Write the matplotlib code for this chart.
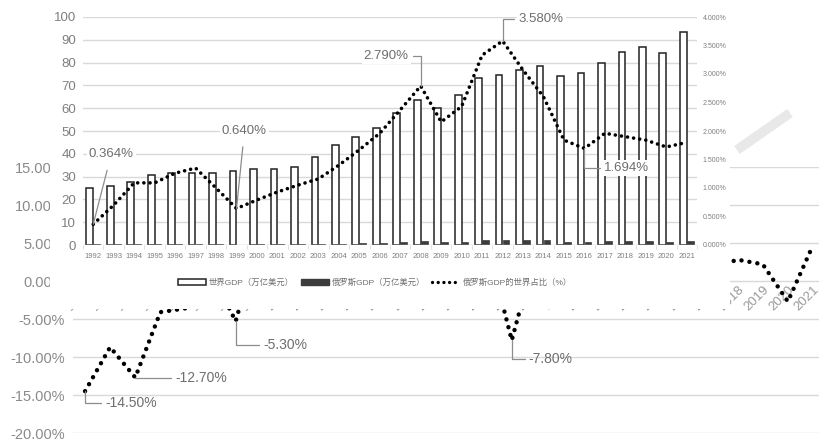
import numpy as np
import matplotlib
matplotlib.use('Agg')
import matplotlib.pyplot as plt
from matplotlib.patches import Patch
from matplotlib.lines import Line2D

plt.rcParams['font.family'] = ['Liberation Sans', 'Noto Sans CJK SC', 'DejaVu Sans']

years = [str(y) for y in range(1992, 2022)]

# background chart: Russia GDP growth (%)
growth = [-14.5, -8.7, -12.7, -4.1, -3.6, 1.4, -5.3, 6.4, 10.0, 5.1, 4.7, 7.3, 7.2, 6.4, 8.2,
          8.5, 5.2, -7.8, 4.5, 4.3, 4.0, 1.8, 0.7, -2.0, 0.2, 1.8, 2.8, 2.2, -2.7, 4.7]

# overlay chart: world GDP, Russia GDP (trillion USD) and Russia share (%)
world_gdp = [25.2, 25.9, 27.8, 30.7, 31.7, 31.4, 31.4, 32.5, 33.4, 33.2, 34.4, 38.7, 43.7, 47.5, 51.3,
             57.8, 63.6, 60.0, 65.8, 73.2, 74.4, 76.8, 78.5, 74.1, 75.6, 80.0, 84.5, 87.0, 84.0, 93.5]
russia_gdp = [0.46, 0.44, 0.40, 0.40, 0.39, 0.40, 0.27, 0.20, 0.26, 0.31, 0.35, 0.43, 0.59, 0.76, 0.99,
              1.30, 1.66, 1.22, 1.52, 2.05, 2.21, 2.29, 2.06, 1.36, 1.28, 1.57, 1.66, 1.69, 1.49, 1.78]
share = [0.364, 0.70, 1.09, 1.09, 1.26, 1.35, 1.00, 0.640, 0.79, 0.93, 1.05, 1.16, 1.40, 1.67, 1.96,
         2.37, 2.790, 2.16, 2.43, 3.33, 3.580, 3.07, 2.60, 1.84, 1.694, 1.96, 1.90, 1.84, 1.72, 1.80]

gray = '#7f7f7f'
grid = '#d9d9d9'
W, H = 820, 440


def box(l, t, r, b):
    return [l / W, 1 - b / H, (r - l) / W, (b - t) / H]


fig = plt.figure(figsize=(8.2, 4.4), dpi=100)

# ---------- background chart ----------
bg = fig.add_axes(box(73, 167, 820, 433), zorder=0)
x = np.arange(len(years))
bg.plot(x, growth, color='black', lw=3.2, linestyle=(0, (0.01, 1.8)), dash_capstyle='round')
bg.set_xlim(-0.48, 29.28)
bg.set_ylim(-20, 15)
bg.spines['bottom'].set_position(('data', 0))
for s in bg.spines.values():
    s.set_visible(False)
bg.set_yticks(np.arange(-20, 16, 5))
bg.set_yticklabels(['{:.2f}%'.format(v) for v in np.arange(-20, 16, 5)])
bg.yaxis.grid(True, color=grid, lw=1)
bg.set_axisbelow(True)
bg.tick_params(axis='y', length=0, labelsize=10.5, labelcolor='#8a8a8a', pad=6)
bg.set_xticks(x)
bg.set_xticklabels(years, rotation=45, ha='right', va='top', rotation_mode='anchor')
bg.tick_params(axis='x', length=0, labelsize=9.5, labelcolor='#9a9a9a', pad=2)

bg_notes = [(0, '-14.50%', (20, -12)), (2, '-12.70%', (40, 0)), (6, '-5.30%', (28, -24)),
            (17, '-7.80%', (17, -19))]
for i, txt, off in bg_notes:
    bg.annotate(txt, (i, growth[i]), xytext=off, textcoords='offset pixels',
                ha='left', va='center', fontsize=10, color='#6e6e6e',
                arrowprops=dict(arrowstyle='-', color='#8c8c8c', lw=0.9, shrinkA=1, shrinkB=0,
                                connectionstyle='angle,angleA=0,angleB=90,rad=0'))

# watermark stroke
fig.lines.append(Line2D([737 / W, 790 / W], [1 - 150 / H, 1 - 113 / H], transform=fig.transFigure,
                        color='#e8e8e8', lw=7, solid_capstyle='butt', zorder=1))

# ---------- overlay chart ----------
panel = fig.add_axes(box(50, 0, 730, 309), zorder=3)
panel.set_facecolor('white')
panel.set_xticks([])
panel.set_yticks([])
for s in panel.spines.values():
    s.set_visible(False)

ax = fig.add_axes(box(83, 17, 697, 245), zorder=4)
ax.patch.set_alpha(0)
bw = 0.33
ax.bar(x - 0.17, world_gdp, bw, facecolor='white', edgecolor='#222222', lw=1.1, label='世界GDP（万亿美元）')
ax.bar(x + 0.17, russia_gdp, bw, facecolor='#3c3c3c', edgecolor='#3c3c3c', lw=0.5,
       label='俄罗斯GDP（万亿美元）')
ax.set_xlim(-0.5, 29.5)
ax.set_ylim(0, 100)
ax.set_yticks(np.arange(0, 101, 10))
ax.yaxis.grid(True, color=grid, lw=1)
ax.set_axisbelow(True)
for s in ax.spines.values():
    s.set_visible(False)
ax.tick_params(axis='y', length=0, labelsize=9.5, labelcolor=gray, pad=5)
ax.set_xticks(x)
ax.set_xticklabels(years)
ax.set_xticks(np.arange(-0.5, 30, 1), minor=True)
ax.tick_params(axis='x', which='major', length=0, labelsize=5.5, labelcolor=gray, pad=6)
ax.tick_params(axis='x', which='minor', length=3, color=grid)
ax.axhline(0, color=grid, lw=1)

ax2 = ax.twinx()
ax2.plot(x, share, color='black', lw=2.6, linestyle=(0, (0.01, 1.7)), dash_capstyle='round',
         label='俄罗斯GDP的世界占比（%）')
ax2.set_ylim(0, 4)
ax2.set_yticks(np.arange(0, 4.01, 0.5))
ax2.set_yticklabels(['{:.3f}%'.format(v) for v in np.arange(0, 4.01, 0.5)])
for s in ax2.spines.values():
    s.set_visible(False)
ax2.tick_params(axis='y', length=0, labelsize=5, labelcolor=gray, pad=4)

ov_notes = [(0, '0.364%', (18, 70), 'center'), (7, '0.640%', (8, 78), 'center'),
            (16, '2.790%', (-12, 30), 'right'), (20, '3.580%', (16, 22), 'left'),
            (24, '1.694%', (20, -20), 'left')]
for i, txt, off, ha in ov_notes:
    if ha == 'center':
        cs = 'arc3'
    else:
        cs = 'angle,angleA=0,angleB=90,rad=0'
    ax2.annotate(txt, (i, share[i]), xytext=off, textcoords='offset pixels',
                 ha=ha, va='center', fontsize=9.5, color='#6e6e6e',
                 bbox=dict(boxstyle='square,pad=0.15', facecolor='white', edgecolor='none'),
                 arrowprops=dict(arrowstyle='-', color='#8c8c8c', lw=0.9, shrinkA=6 if ha == 'center' else 2,
                                 shrinkB=0, connectionstyle=cs))

handles = [Patch(facecolor='white', edgecolor='#222222', lw=1.1, label='世界GDP（万亿美元）'),
           Patch(facecolor='#3c3c3c', edgecolor='#3c3c3c', label='俄罗斯GDP（万亿美元）'),
           Line2D([], [], color='black', lw=2.4, linestyle=(0, (0.01, 1.7)), dash_capstyle='round',
                  label='俄罗斯GDP的世界占比（%）')]
leg = fig.legend(handles=handles, loc='center', bbox_to_anchor=(375 / W, 1 - 283 / H), ncol=3,
                 frameon=False, fontsize=6.0, handlelength=3.4, handleheight=0.8, columnspacing=0.8,
                 handletextpad=0.3)
for t in leg.get_texts():
    t.set_color('#6e6e6e')
leg.set_zorder(5)

fig.savefig('out.png', dpi=100)
